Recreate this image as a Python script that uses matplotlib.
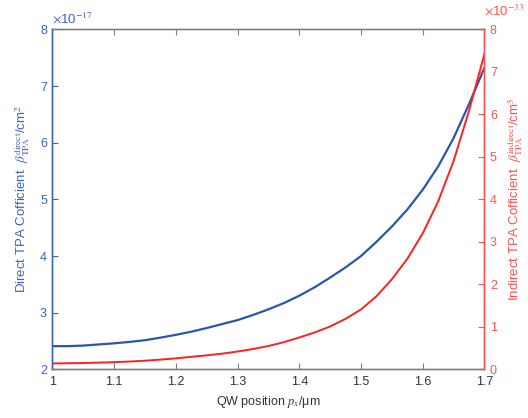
import numpy as np
import matplotlib
matplotlib.use('Agg')
import matplotlib.pyplot as plt

plt.rcParams['font.family'] = ['Liberation Sans', 'DejaVu Sans']
plt.rcParams['mathtext.fontset'] = 'stix'

# QW position (um)
px = [1.0, 1.025, 1.05, 1.075, 1.1, 1.125, 1.15, 1.175, 1.2, 1.225, 1.25,
      1.275, 1.3, 1.325, 1.35, 1.375, 1.4, 1.425, 1.45, 1.475, 1.5,
      1.525, 1.55, 1.575, 1.6, 1.625, 1.65, 1.675, 1.7]
# direct TPA coefficient, units of 1e-17 cm^2
beta_direct = [2.41, 2.41, 2.42, 2.44, 2.46, 2.485, 2.515, 2.56, 2.61, 2.665, 2.73,
               2.80, 2.87, 2.96, 3.06, 3.17, 3.30, 3.45, 3.62, 3.80, 4.00,
               4.25, 4.52, 4.82, 5.17, 5.58, 6.08, 6.68, 7.32]
# indirect TPA coefficient, units of 1e-33 cm^5
beta_indirect = [0.14, 0.145, 0.15, 0.16, 0.17, 0.185, 0.205, 0.23, 0.26, 0.295, 0.33,
                 0.37, 0.42, 0.48, 0.55, 0.64, 0.75, 0.87, 1.01, 1.19, 1.41,
                 1.72, 2.12, 2.60, 3.20, 3.95, 4.90, 6.08, 7.42]

xticks = [1.0, 1.1, 1.2, 1.3, 1.4, 1.5, 1.6, 1.7]
xticklabels = ['1', '1.1', '1.2', '1.3', '1.4', '1.5', '1.6', '1.7']

blue = '#2b55b0'
red = '#ff2020'
blue_ax = '#4060c0'
red_ax = '#ff5050'
gray = '#808080'

fig = plt.figure(figsize=(5.28, 4.18), dpi=100)
ax = fig.add_axes([0.0994, 0.1163, 0.818, 0.8134])
ax2 = ax.twinx()

ax.plot(px, beta_direct, color=blue, lw=1.6)
ax2.plot(px, beta_indirect, color=red, lw=1.4)

ax.set_xlim(1.0, 1.7)
ax.set_ylim(2, 8)
ax2.set_ylim(0, 8)
ax.set_xticks(xticks)
ax.set_xticklabels(xticklabels)
ax.set_yticks(range(2, 9))
ax2.set_yticks(range(0, 9))

ax.tick_params(axis='x', direction='in', top=True, length=4, color=gray,
               labelsize=9, labelcolor='#333333', pad=5)
ax.tick_params(axis='y', direction='in', length=4, color=blue_ax,
               labelsize=9, labelcolor=blue_ax, pad=4)
ax2.tick_params(axis='y', direction='in', length=4, color=red_ax,
                labelsize=9, labelcolor=red_ax, pad=4)

for a in (ax, ax2):
    a.spines['top'].set_color(gray)
    a.spines['bottom'].set_color(gray)
    a.spines['left'].set_color(blue_ax)
    a.spines['right'].set_color(red_ax)
    for s in a.spines.values():
        s.set_linewidth(1.0)

ax.set_xlabel('QW position $\\mathit{p_x}$/\u03bcm', fontsize=9, color='#333333', labelpad=4)
ax.set_ylabel('Direct TPA Cofficient  $\\beta_{\\mathrm{TPA}}^{\\mathrm{direct}}$/cm$^{2}$',
              fontsize=9.5, color=blue_ax, labelpad=6)
ax2.set_ylabel('Indirect TPA Cofficient  $\\beta_{\\mathrm{TPA}}^{\\mathrm{indirect}}$/cm$^{5}$',
               fontsize=9.5, color=red_ax, labelpad=6)

ax.text(0.0, 1.012, '$\\times$10$^{-17}$', transform=ax.transAxes, fontsize=9.5,
        color=blue_ax, ha='left', va='bottom')
ax.text(1.0, 1.035, '$\\times$10$^{-33}$', transform=ax.transAxes, fontsize=9.5,
        color=red_ax, ha='left', va='bottom')

fig.savefig('out.png', dpi=100)
